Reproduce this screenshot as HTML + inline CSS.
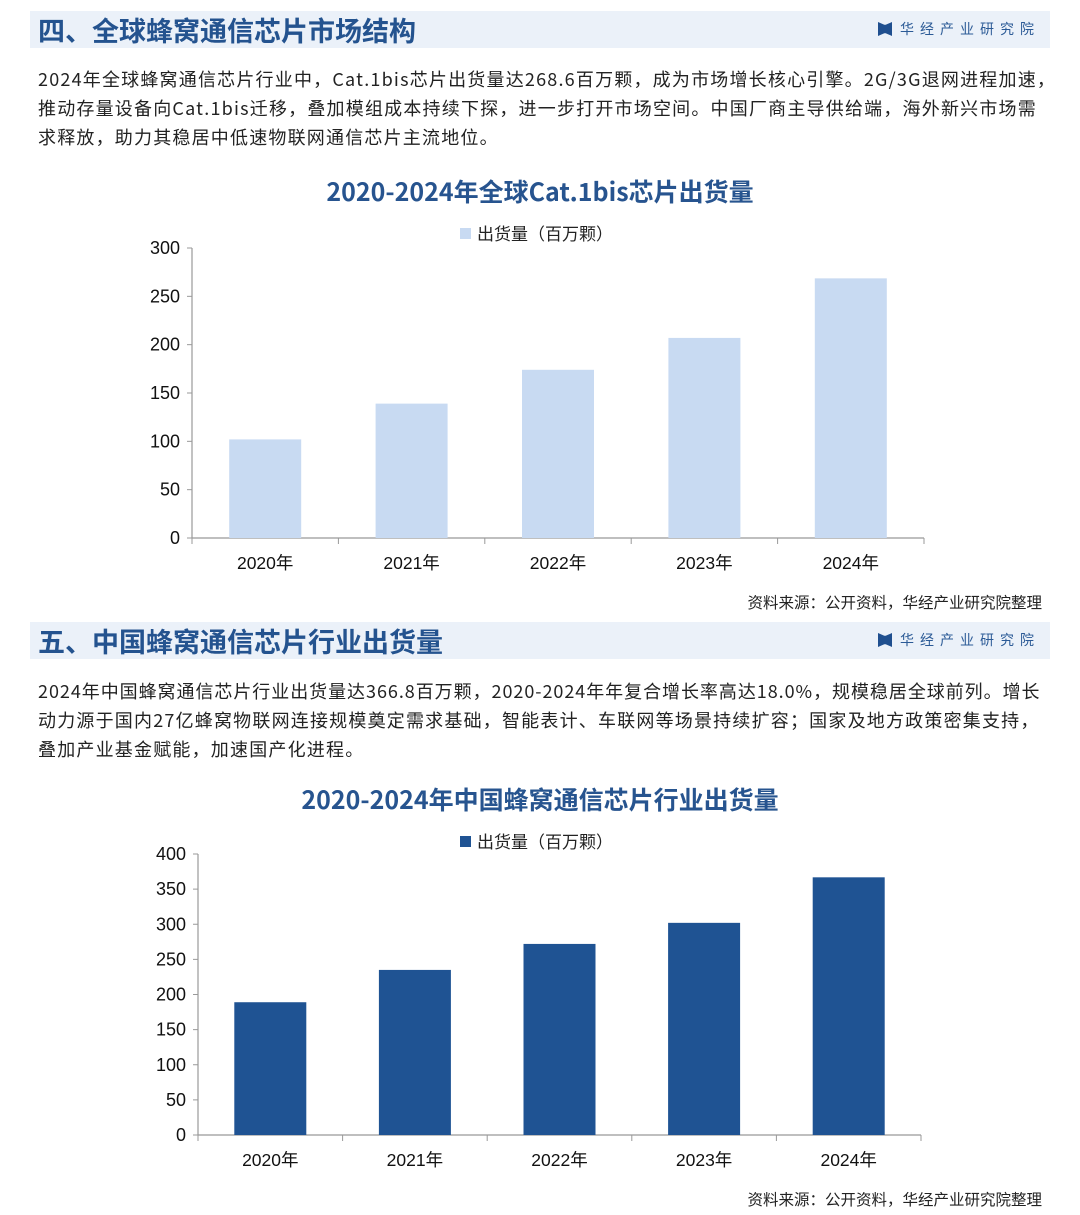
<!DOCTYPE html>
<html><head><meta charset="utf-8">
<style>
body{margin:0;width:1080px;height:1215px;background:#fff;position:relative;overflow:hidden;font-family:"Liberation Sans","Noto Sans CJK SC",sans-serif;}
.hdr{position:absolute;left:30px;width:1020px;height:37px;background:#ebf1f9;}
.hdr h2{margin:0;position:absolute;left:8px;top:0;line-height:37px;font-size:27px;color:#24538f;font-weight:bold;font-family:"Noto Sans CJK SC",sans-serif;}
.logo{position:absolute;right:10px;top:0;line-height:37px;font-size:14px;color:#2b5a96;letter-spacing:6px;font-family:"Noto Sans CJK SC",sans-serif;}
.logo i{display:inline-block;width:14px;height:14px;background:#1f4f8f;vertical-align:-2px;margin-right:8px;clip-path:polygon(0 0,45% 20%,55% 20%,100% 0,100% 100%,55% 80%,45% 80%,0 100%);}
.para{position:absolute;left:38px;width:1040px;font-size:18px;letter-spacing:1.2px;line-height:29px;color:#222;font-family:"Noto Sans CJK SC",sans-serif;white-space:nowrap;}
.tight{letter-spacing:0.95px;}
.src{position:absolute;right:38px;font-size:15.5px;color:#222;font-family:"Noto Sans CJK SC",sans-serif;}
svg{position:absolute;left:0;}
</style></head><body>
<div class="hdr" style="top:11px"><h2>四、全球蜂窝通信芯片市场结构</h2><div class="logo"><i></i>华经产业研究院</div></div>
<div class="para" style="top:65px">2024年全球蜂窝通信芯片行业中，Cat.1bis芯片出货量达268.6百万颗，成为市场增长核心引擎。2G/3G退网进程加速，<br>推动存量设备向Cat.1bis迁移，叠加模组成本持续下探，进一步打开市场空间。中国厂商主导供给端，海外新兴市场需<br>求释放，助力其稳居中低速物联网通信芯片主流地位。</div>
<svg id="c1" width="1080" height="600" style="top:0"></svg>
<div class="src" style="top:591px">资料来源：公开资料，华经产业研究院整理</div>
<div class="hdr" style="top:622px"><h2>五、中国蜂窝通信芯片行业出货量</h2><div class="logo"><i></i>华经产业研究院</div></div>
<div class="para" style="top:677px"><span class="tight">2024年中国蜂窝通信芯片行业出货量达366.8百万颗，2020-2024年年复合增长率高达18.0%，规模稳居全球前列。增长</span><br>动力源于国内27亿蜂窝物联网连接规模奠定需求基础，智能表计、车联网等场景持续扩容；国家及地方政策密集支持，<br>叠加产业基金赋能，加速国产化进程。</div>
<svg id="c2" width="1080" height="1215" style="top:0"></svg>
<div class="src" style="top:1188px">资料来源：公开资料，华经产业研究院整理</div>
<script>
const categories=["2020年","2021年","2022年","2023年","2024年"];
const globalValues=[102,139,174,207,268.6];
const chinaValues=[189,235,272,302,366.8];
const globalTicks=[0,50,100,150,200,250,300];
const chinaTicks=[0,50,100,150,200,250,300,350,400];
const NS="http://www.w3.org/2000/svg";
function mk(svg,tag,attrs,text){const e=document.createElementNS(NS,tag);for(const k in attrs)e.setAttribute(k,attrs[k]);if(text!==undefined)e.textContent=text;svg.appendChild(e);return e;}
function chart(id,cfg){
 const svg=document.getElementById(id);
 const {x0,x1,yTop,yZero,max,ticks,vals,color,title,titleY,legY,barW}=cfg;
 const y=v=>yZero-(v/max)*(yZero-yTop);
 const cw=(x1-x0)/categories.length;
 const t=mk(svg,'text',{x:540,y:titleY,'text-anchor':'middle','font-size':25,'font-weight':'bold',fill:'#27548f','font-family':'Noto Sans CJK SC, sans-serif'},title);
 
 
 const lr=mk(svg,'rect',{x:460,y:legY-6,width:11,height:11,fill:color});
 
 
 const lt=mk(svg,'text',{x:477,y:legY+6,'font-size':17,fill:'#222','font-family':'Noto Sans CJK SC, sans-serif'},'出货量（百万颗）');
 
 
 mk(svg,'line',{x1:x0,y1:yTop,x2:x0,y2:yZero,stroke:'#999','stroke-width':1.2});
 ticks.forEach(v=>{
  mk(svg,'line',{x1:x0-5,y1:y(v),x2:x0,y2:y(v),stroke:'#999'});
  const tl=mk(svg,'text',{x:x0-12,y:y(v)+6,'text-anchor':'end','font-size':18,fill:'#111'},v);
  
  
 });
 mk(svg,'line',{x1:x0,y1:yZero,x2:x1,y2:yZero,stroke:'#999','stroke-width':1.2});
 for(let i=0;i<=categories.length;i++)mk(svg,'line',{x1:x0+i*cw,y1:yZero,x2:x0+i*cw,y2:yZero+6,stroke:'#999'});
 categories.forEach((c,i)=>{
  const cx=x0+cw*(i+0.5);
  const b=mk(svg,'rect',{x:cx-barW/2,y:y(vals[i]),width:barW,height:yZero-y(vals[i]),fill:color});
  
  
  const xl=mk(svg,'text',{x:cx,y:yZero+31,'text-anchor':'middle','font-size':17.5,fill:'#111','font-family':'Liberation Sans, Noto Sans CJK SC, sans-serif'},c);
  
  
 });
}
chart('c1',{x0:192,x1:924,yTop:248,yZero:538,max:300,ticks:globalTicks,vals:globalValues,color:'#c8daf2',title:'2020-2024年全球Cat.1bis芯片出货量',titleY:201,legY:234,barW:72});
chart('c2',{x0:198,x1:921,yTop:854,yZero:1135,max:400,ticks:chinaTicks,vals:chinaValues,color:'#1f5393',title:'2020-2024年中国蜂窝通信芯片行业出货量',titleY:809,legY:842,barW:72});
</script>
</body></html>
